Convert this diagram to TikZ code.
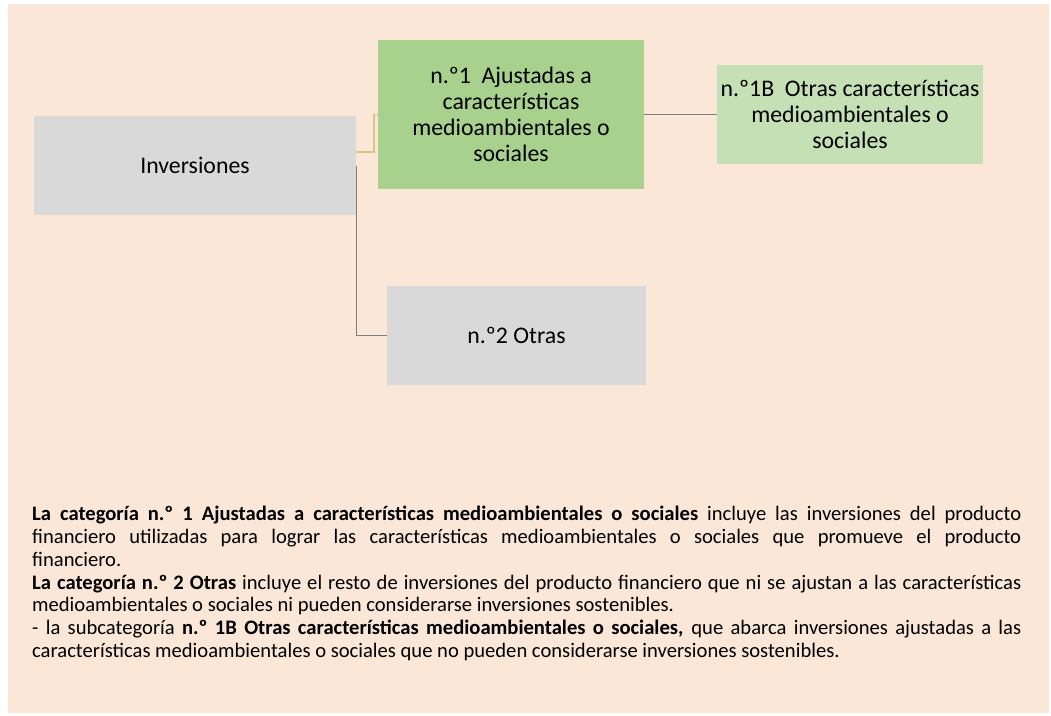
\documentclass[tikz,border=0pt]{standalone}
\usepackage{fontspec}
\setmainfont{Carlito}
\usepackage{tikz}
\usetikzlibrary{positioning}
\usepackage{xcolor}
\definecolor{invpeach}{RGB}{250,231,215}
\definecolor{invgrey}{RGB}{217,217,217}
\definecolor{invgreen}{RGB}{169,209,142}
\definecolor{invlightgreen}{RGB}{197,224,180}
\definecolor{invline}{RGB}{127,127,127}
\definecolor{invgold}{RGB}{217,199,128}
\setlength{\parindent}{0pt}
\tikzstyle{link} = [line width=1pt, color=invline]
\tikzstyle{catbox} = [rectangle, minimum width=266pt, minimum height=99pt, inner sep=0pt, align=center, font=\fontsize{23.8}{26}\selectfont]
\tikzstyle{notebox} = [anchor=north west, inner sep=0pt, text width=989pt, align=justify, font=\fontsize{20.6}{22.8}\selectfont]

\begin{document}
\begin{tikzpicture}[x=1pt, y=-1pt]
\useasboundingbox (0,0) rectangle (1051,715);
\fill[invpeach] (8,4) rectangle (1049,713);

% Boxes
\node[catbox, fill=invgrey, minimum width=322pt] (inv) at (195,165.5) {Inversiones};
\node[catbox, fill=invgreen, minimum height=149pt] (cat1) at (511,114.5) {n.º1~ Ajustadas a\\características\\medioambientales o\\sociales};
\node[catbox, fill=invlightgreen] (cat1b) at (850,114.5) {n.º1B~ Otras características\\medioambientales o\\sociales};
\node[catbox, fill=invgrey, minimum width=259pt] (cat2) at (516.5,335.5) {n.º2 Otras};

% Connectors
\draw[link, color=invgold, line width=1.5pt] ([yshift=13.5pt]inv.east) -- ++(18pt,0) |- (cat1.west);
\draw[link] (inv.east) |- (cat2.west);
\draw[link] (cat1.east) -- (cat1b.west);

% Note
\node[notebox] (note) at (32,506) {\textbf{La categoría n.º 1 Ajustadas a características medioambientales o sociales} incluye las inversiones del producto\linebreak financiero utilizadas para lograr las características medioambientales o sociales que promueve el producto\linebreak financiero.\par
\textbf{La categoría n.º 2 Otras} incluye el resto de inversiones del producto financiero que ni se ajustan a las características\linebreak medioambientales o sociales ni pueden considerarse inversiones sostenibles.\par
- la subcategoría \textbf{n.º 1B Otras características medioambientales o sociales,} que abarca inversiones ajustadas a las\linebreak características medioambientales o sociales que no pueden considerarse inversiones sostenibles.};
\end{tikzpicture}
\end{document}
